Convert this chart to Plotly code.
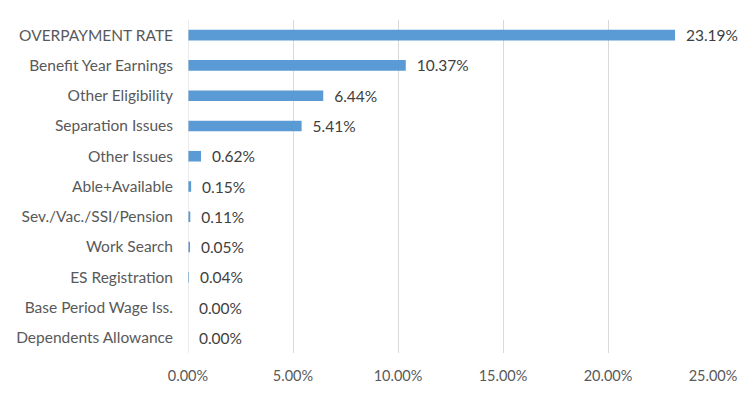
import plotly.graph_objects as go

categories = ["OVERPAYMENT RATE", "Benefit Year Earnings", "Other Eligibility", "Separation Issues",
              "Other Issues", "Able+Available", "Sev./Vac./SSI/Pension", "Work Search",
              "ES Registration", "Base Period Wage Iss.", "Dependents Allowance"]
values = [23.19, 10.37, 6.44, 5.41, 0.62, 0.15, 0.11, 0.05, 0.04, 0.00, 0.00]
tick_vals = [0, 5, 10, 15, 20, 25]
tick_text = ["0.00%", "5.00%", "10.00%", "15.00%", "20.00%", "25.00%"]

labels = [f"  {v:.2f}%" for v in values]

fig = go.Figure(go.Bar(
    y=categories, x=values, orientation="h",
    marker=dict(color="#5B9BD5", line=dict(width=0)),
    text=labels, textposition="outside", cliponaxis=False, constraintext="none",
    textfont=dict(family="Lato, sans-serif", size=15.5, color="#404040"),
))

fig.update_layout(
    width=742, height=389,
    margin=dict(l=180, r=37, t=12, b=44),
    paper_bgcolor="white", plot_bgcolor="white",
    bargap=0.65, showlegend=False,
    font=dict(family="Lato, sans-serif", size=14, color="#595959"),
    xaxis=dict(range=[0, 25], tickvals=tick_vals, ticktext=tick_text,
               showgrid=True, gridcolor="#D9D9D9", gridwidth=1,
               zeroline=False, showline=False, ticks="", ticklen=0,
               automargin=False, ticklabelstandoff=12,
               tickfont=dict(size=14.5)),
    yaxis=dict(autorange="reversed", categoryorder="array", categoryarray=categories,
               showgrid=False, zeroline=False, showline=False, ticks="",
               automargin=False, ticklabelstandoff=14,
               tickfont=dict(size=15.5)),
)
fig.add_shape(type="line", xref="x", yref="paper", x0=0, x1=0, y0=0, y1=1,
              line=dict(color="#D9D9D9", width=1))

fig.write_html("out.html")
